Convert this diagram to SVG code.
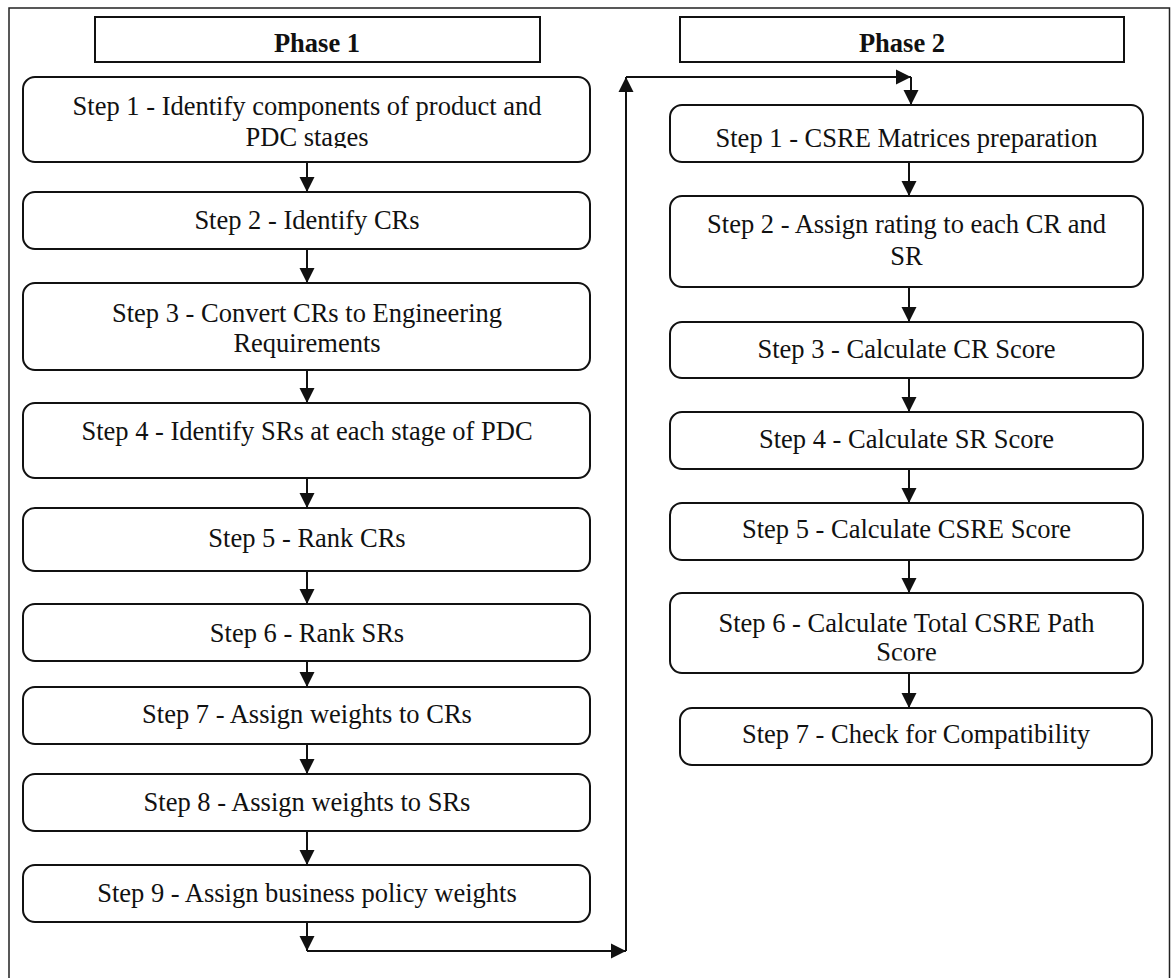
<svg xmlns="http://www.w3.org/2000/svg" width="1171" height="978" viewBox="0 0 1171 978">
<style>
.frame{fill:none;stroke:#222;stroke-width:1.5}
.hdr{fill:#fff;stroke:#111;stroke-width:2}
.box{fill:#fff;stroke:#111;stroke-width:2}
.t{font-family:'Liberation Serif','Times New Roman',Tinos,'DejaVu Serif',serif;font-size:26.5px;fill:#111;text-anchor:middle}
.b{font-weight:bold}
.c{fill:none;stroke:#111;stroke-width:2}
</style>
<defs>
<marker id="ah" markerWidth="16" markerHeight="16" viewBox="0 0 16 16" refX="15" refY="8" orient="auto" markerUnits="userSpaceOnUse">
<path d="M0,0.5 L15,8 L0,15.5 Z" fill="#111"/>
</marker>
<clipPath id="clipL1"><rect x="23" y="77" width="567" height="71"/></clipPath>
<clipPath id="clipR6"><rect x="670" y="593" width="473" height="67.5"/></clipPath>
</defs>
<rect width="1171" height="978" fill="#fff"/>
<path class="frame" d="M9,980 L9,8 L1169.5,8 L1169.5,980"/>

<g id="phase1">
<rect class="hdr" x="95" y="17" width="445" height="45"/>
<text class="t b" font-family="Liberation Serif, serif" x="317" y="52">Phase 1</text>
</g>
<g id="phase2">
<rect class="hdr" x="680" y="17" width="444" height="45"/>
<text class="t b" font-family="Liberation Serif, serif" x="902" y="52">Phase 2</text>
</g>

<g id="p1s1">
<rect class="box" x="23" y="77" width="567" height="85" rx="12"/>
<g clip-path="url(#clipL1)">
<text class="t" font-family="Liberation Serif, serif" x="307" y="115">Step 1 - Identify components of product and</text>
<text class="t" font-family="Liberation Serif, serif" x="307" y="146">PDC stages</text>
</g>
</g>
<g id="p1s2">
<rect class="box" x="23" y="192" width="567" height="57" rx="12"/>
<text class="t" font-family="Liberation Serif, serif" x="307" y="229">Step 2 - Identify CRs</text>
</g>
<g id="p1s3">
<rect class="box" x="23" y="283" width="567" height="87" rx="12"/>
<text class="t" font-family="Liberation Serif, serif" x="307" y="322">Step 3 - Convert CRs to Engineering</text>
<text class="t" font-family="Liberation Serif, serif" x="307" y="352">Requirements</text>
</g>
<g id="p1s4">
<rect class="box" x="23" y="403" width="567" height="75" rx="12"/>
<text class="t" font-family="Liberation Serif, serif" x="307" y="440">Step 4 - Identify SRs at each stage of PDC</text>
</g>
<g id="p1s5">
<rect class="box" x="23" y="508" width="567" height="63" rx="12"/>
<text class="t" font-family="Liberation Serif, serif" x="307" y="547">Step 5 - Rank CRs</text>
</g>
<g id="p1s6">
<rect class="box" x="23" y="604" width="567" height="57" rx="12"/>
<text class="t" font-family="Liberation Serif, serif" x="307" y="642">Step 6 - Rank SRs</text>
</g>
<g id="p1s7">
<rect class="box" x="23" y="687" width="567" height="57" rx="12"/>
<text class="t" font-family="Liberation Serif, serif" x="307" y="723">Step 7 - Assign weights to CRs</text>
</g>
<g id="p1s8">
<rect class="box" x="23" y="774" width="567" height="57" rx="12"/>
<text class="t" font-family="Liberation Serif, serif" x="307" y="811">Step 8 - Assign weights to SRs</text>
</g>
<g id="p1s9">
<rect class="box" x="23" y="865" width="567" height="57" rx="12"/>
<text class="t" font-family="Liberation Serif, serif" x="307" y="902">Step 9 - Assign business policy weights</text>
</g>

<g id="p2s1">
<rect class="box" x="670" y="105" width="473" height="57" rx="12"/>
<text class="t" font-family="Liberation Serif, serif" x="906.5" y="147">Step 1 - CSRE Matrices preparation</text>
</g>
<g id="p2s2">
<rect class="box" x="670" y="196" width="473" height="91" rx="12"/>
<text class="t" font-family="Liberation Serif, serif" x="906.5" y="233">Step 2 - Assign rating to each CR and</text>
<text class="t" font-family="Liberation Serif, serif" x="906.5" y="265">SR</text>
</g>
<g id="p2s3">
<rect class="box" x="670" y="322" width="473" height="56" rx="12"/>
<text class="t" font-family="Liberation Serif, serif" x="906.5" y="358">Step 3 - Calculate CR Score</text>
</g>
<g id="p2s4">
<rect class="box" x="670" y="412" width="473" height="57" rx="12"/>
<text class="t" font-family="Liberation Serif, serif" x="906.5" y="448">Step 4 - Calculate SR Score</text>
</g>
<g id="p2s5">
<rect class="box" x="670" y="503" width="473" height="57" rx="12"/>
<text class="t" font-family="Liberation Serif, serif" x="906.5" y="538">Step 5 - Calculate CSRE Score</text>
</g>
<g id="p2s6">
<rect class="box" x="670" y="593" width="473" height="80" rx="12"/>
<g clip-path="url(#clipR6)">
<text class="t" font-family="Liberation Serif, serif" x="906.5" y="632">Step 6 - Calculate Total CSRE Path</text>
<text class="t" font-family="Liberation Serif, serif" x="906.5" y="661">Score</text>
</g>
</g>
<g id="p2s7">
<rect class="box" x="680" y="708" width="472" height="57" rx="12"/>
<text class="t" font-family="Liberation Serif, serif" x="916" y="743">Step 7 - Check for Compatibility</text>
</g>

<g id="connectors">
<path class="c" d="M307,162 V192" marker-end="url(#ah)"/>
<path class="c" d="M307,249 V283" marker-end="url(#ah)"/>
<path class="c" d="M307,370 V403" marker-end="url(#ah)"/>
<path class="c" d="M307,478 V508" marker-end="url(#ah)"/>
<path class="c" d="M307,571 V604" marker-end="url(#ah)"/>
<path class="c" d="M307,661 V687" marker-end="url(#ah)"/>
<path class="c" d="M307,744 V774" marker-end="url(#ah)"/>
<path class="c" d="M307,831 V865" marker-end="url(#ah)"/>
<path class="c" d="M307,922 V951" marker-end="url(#ah)"/>
<path class="c" d="M307,951 H626" marker-end="url(#ah)"/>
<path class="c" d="M626,951 V77" marker-end="url(#ah)"/>
<path class="c" d="M626,77 H911" marker-end="url(#ah)"/>
<path class="c" d="M911,77 V105" marker-end="url(#ah)"/>
<path class="c" d="M909,162 V196" marker-end="url(#ah)"/>
<path class="c" d="M909,287 V322" marker-end="url(#ah)"/>
<path class="c" d="M909,378 V412" marker-end="url(#ah)"/>
<path class="c" d="M909,469 V503" marker-end="url(#ah)"/>
<path class="c" d="M909,560 V593" marker-end="url(#ah)"/>
<path class="c" d="M909,673 V708" marker-end="url(#ah)"/>
</g>
</svg>
